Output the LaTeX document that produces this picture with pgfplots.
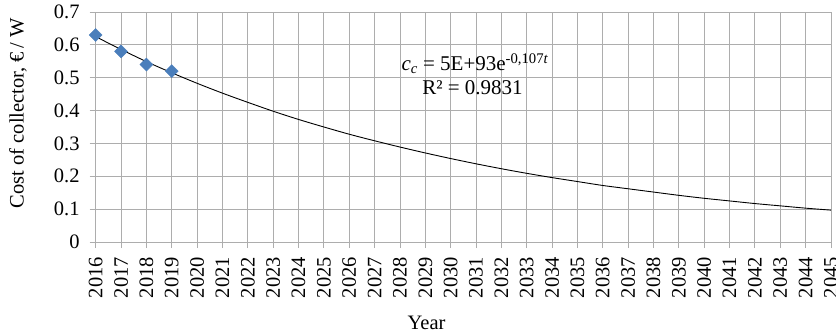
\documentclass[border=0pt]{standalone}
\usepackage{fontspec}
\setmainfont{Liberation Serif}
\usepackage{pgfplots}
\pgfplotsset{compat=1.18}

\definecolor{gridc}{HTML}{ADADAD}
\definecolor{ptblue}{HTML}{4A7EBB}
\newcommand\fs{\fontsize{20.5bp}{24bp}\selectfont}
\newcommand\fe{\fontsize{21bp}{24bp}\selectfont}

\begin{document}
\begin{tikzpicture}
\begin{axis}[
  name=ax,
  scale only axis,
  width=735.3bp, height=230bp,
  xmin=2016, xmax=2045,
  ymin=0, ymax=0.7,
  xtick={2016,...,2045},
  ytick={0,0.1,0.2,0.3,0.4,0.5,0.6,0.7},
  grid=major,
  grid style={gridc, line width=0.8bp},
  axis line style={gridc, line width=0.8bp},
  tick style={gridc, line width=0.8bp},
  tick align=outside,
  tick pos=left,
  major tick length=6bp,
  xticklabel style={rotate=90, anchor=east, inner sep=0pt, font=\fs, xshift=-9bp},
  yticklabel style={anchor=east, inner sep=0pt, font=\fs, xshift=-10bp},
  x tick label style={/pgf/number format/.cd, 1000 sep={}, assume math mode=true},
  y tick label style={/pgf/number format/.cd, fixed, precision=1, assume math mode=true},
  xlabel={Year},
  xlabel style={font=\fs, at={(rel axis cs:0.45,0)}, anchor=base, yshift=-87bp},
  ylabel={Cost of collector, €\,/ W},
  ylabel style={font=\fs, at={(rel axis cs:0,0.56)}, anchor=center, yshift=77.7bp},
  clip=false,
]
% fitted exponential trend
\addplot[black, line width=0.9bp, smooth] coordinates {
  (2016,0.625) (2017,0.586) (2018,0.549) (2019,0.515) (2020,0.483)
  (2021,0.453) (2022,0.425) (2023,0.398) (2024,0.373) (2025,0.350)
  (2026,0.328) (2027,0.308) (2028,0.289) (2029,0.271) (2030,0.254)
  (2031,0.238) (2032,0.223) (2033,0.209) (2034,0.196) (2035,0.184)
  (2036,0.172) (2037,0.162) (2038,0.152) (2039,0.142) (2040,0.133)
  (2041,0.125) (2042,0.117) (2043,0.110) (2044,0.103) (2045,0.097)
};
% observed collector cost
\addplot[only marks, mark=square*, mark size=4.6bp,
  mark options={rotate=45, fill=ptblue, draw=ptblue}] coordinates {
  (2016,0.63) (2017,0.58) (2018,0.54) (2019,0.52)
};
\node[font=\fe, anchor=base] at (axis cs:2030.96,0.5213)
  {\textit{c}\textsubscript{\textit{c}} = 5E+93e\textsuperscript{-0,107\textit{t}}};
\node[font=\fe, anchor=base] at (axis cs:2030.86,0.4474) {R² = 0.9831};
\end{axis}
\pgfresetboundingbox
\path ([shift={(-95.7bp,-94bp)}]ax.south west) rectangle ([shift={(5bp,12bp)}]ax.north east);
\end{tikzpicture}
\end{document}
